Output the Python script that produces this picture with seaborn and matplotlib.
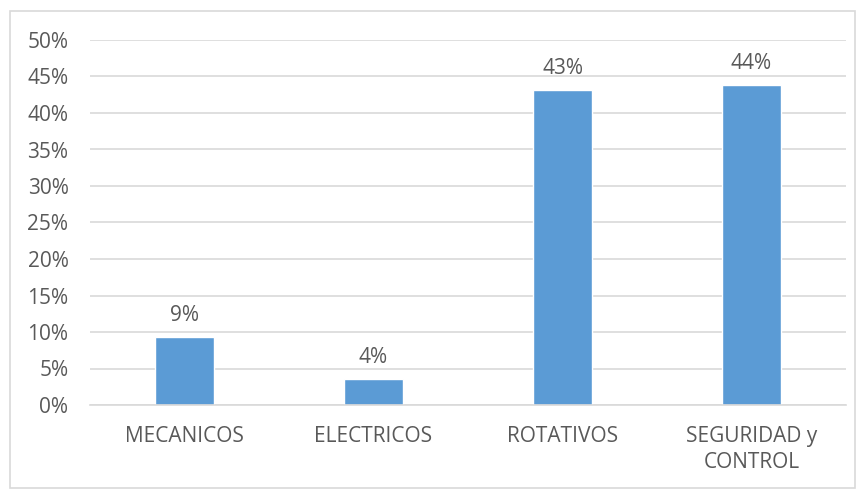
import matplotlib
matplotlib.use("Agg")
import matplotlib.pyplot as plt
import seaborn as sns
import pandas as pd
from matplotlib.patches import Rectangle

categories = ["MECANICOS", "ELECTRICOS", "ROTATIVOS", "SEGURIDAD y\nCONTROL"]
values = [0.093, 0.035, 0.432, 0.438]
value_labels = ["9%", "4%", "43%", "44%"]
yticks = [0, 0.05, 0.10, 0.15, 0.20, 0.25, 0.30, 0.35, 0.40, 0.45, 0.50]
ytick_labels = ["0%", "5%", "10%", "15%", "20%", "25%", "30%", "35%", "40%", "45%", "50%"]

sns.set_theme(style="white")
plt.rcParams['font.family'] = ['Open Sans', 'DejaVu Sans']

txt = "#595959"
fs = 15
fig = plt.figure(figsize=(8.63, 4.90), dpi=100)
ax = fig.add_axes([90/863, 85/490, 756/863, 365/490])

df = pd.DataFrame({"cat": categories, "val": values})
sns.barplot(data=df, x="cat", y="val", color="#5B9BD5", saturation=1, width=0.315, ax=ax)

ax.set_ylim(0, 0.5)
ax.set_xlim(-0.5, 3.5)
ax.set_yticks(yticks)
ax.set_yticklabels(ytick_labels)
ax.yaxis.grid(True, color="#D9D9D9", linewidth=1.2)
ax.set_axisbelow(True)
for s in ["top", "right", "left"]:
    ax.spines[s].set_visible(False)
ax.spines["bottom"].set_color("#D9D9D9")
ax.spines["bottom"].set_linewidth(1.2)
ax.set_xlabel("")
ax.set_ylabel("")
ax.tick_params(axis="both", length=0, labelsize=fs, colors=txt)
ax.tick_params(axis="y", pad=15.5)
ax.tick_params(axis="x", pad=15)
for lab in ax.get_xticklabels():
    lab.set_linespacing(1.3)

for i, (v, l) in enumerate(zip(values, value_labels)):
    ax.annotate(l, (i, v), xytext=(0, 8), textcoords="offset points",
                ha="center", va="bottom", fontsize=fs, color=txt)

fig.patches.append(Rectangle((10/863, 2/490), 845/863, 477/490, transform=fig.transFigure,
                             fill=False, edgecolor="#D9D9D9", linewidth=1.2))

fig.savefig("out.png", dpi=100)
